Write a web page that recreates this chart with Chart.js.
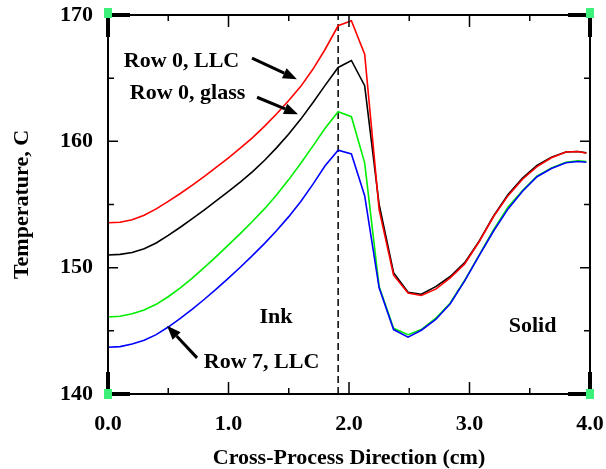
<!DOCTYPE html>
<html><head><meta charset="utf-8">
<script src="https://cdn.jsdelivr.net/npm/chart.js@4/dist/chart.umd.min.js"></script>
<style>html,body{margin:0;padding:0;background:#fff;}</style>
</head><body>
<canvas id="c" width="606" height="469" style="width:606px;height:469px;display:block"></canvas>
<script>
// ---- data ----
const xValues = [0,0.1,0.2,0.3,0.4,0.5,0.6,0.7,0.8,0.9,1.0,1.1,1.2,1.3,1.4,1.5,1.6,1.7,1.8,1.91,2.02,2.13,2.25,2.37,2.49,2.6,2.72,2.84,2.96,3.08,3.2,3.32,3.44,3.56,3.68,3.8,3.9,3.97];
const row0LLC   = [153.55,153.6,153.8,154.15,154.65,155.25,155.87,156.53,157.23,157.95,158.7,159.48,160.3,161.2,162.18,163.23,164.35,165.7,167.25,169.15,169.55,166.9,154.6,149.4,148.0,147.8,148.3,149.2,150.3,152.05,154.05,155.7,157.0,158.0,158.7,159.15,159.2,159.05];
const row0Glass = [151.0,151.05,151.2,151.5,151.95,152.55,153.2,153.88,154.58,155.3,156.04,156.8,157.6,158.5,159.5,160.58,161.76,163.06,164.41,165.85,166.4,164.4,155.0,149.6,148.05,147.9,148.5,149.3,150.4,152.1,154.1,155.8,157.1,158.1,158.75,159.15,159.2,159.1];
const row7Glass = [146.1,146.15,146.35,146.65,147.1,147.7,148.4,149.18,150.02,150.9,151.8,152.72,153.67,154.67,155.77,156.97,158.27,159.62,161.02,162.35,161.95,158.3,148.5,145.2,144.7,145.1,146.0,147.2,149.0,151.0,153.0,154.8,156.1,157.25,157.9,158.35,158.45,158.4];
const row7LLC   = [143.7,143.75,143.95,144.25,144.7,145.3,145.98,146.72,147.5,148.32,149.17,150.05,150.97,151.92,152.94,154.04,155.24,156.59,158.04,159.3,159.0,155.7,148.4,145.1,144.5,145.05,145.9,147.15,148.95,150.95,152.9,154.65,156.05,157.2,157.85,158.3,158.4,158.35];
const seriesNames = ['Row 0, LLC','Row 7, LLC','Row 0, glass','Row 7, glass'];
const xTickLabels = ['0.0','1.0','2.0','3.0','4.0'];
const yTickLabels = ['140','150','160','170'];
const boundaryX = 1.91;
const labelTexts = ['Row 0, LLC','Row 0, glass','Ink','Row 7, LLC','Solid'];
const labelX = [0.61,0.66,1.394,1.274,3.523];
const labelY = [165.87,163.33,145.63,142.06,144.87];
const arrowFrom = [[1.195,166.59],[1.237,163.49],[0.739,142.86]];
const arrowTo   = [[1.568,164.92],[1.577,162.14],[0.49,145.4]];

const FONT = '"Liberation Serif", "Times New Roman", serif';
const toPts = ys => xValues.map((x,i)=>({x:x,y:ys[i]}));

const decor = {
  id:'decor',
  beforeDatasetsDraw(chart){
    const {ctx, chartArea:a, scales:{x}} = chart;
    const px = x.getPixelForValue(boundaryX);
    ctx.save();
    ctx.strokeStyle='#000'; ctx.lineWidth=1.5; ctx.setLineDash([7,4]);
    ctx.beginPath(); ctx.moveTo(px,a.bottom); ctx.lineTo(px,a.top); ctx.stroke();
    ctx.restore();
  },
  afterDraw(chart){
    const {ctx, chartArea:a, scales:{x,y}} = chart;
    ctx.save();
    ctx.strokeStyle='#000'; ctx.lineWidth=2;
    ctx.strokeRect(a.left,a.top,a.right-a.left,a.bottom-a.top);
    // ticks
    ctx.lineWidth=1.5;
    for(let v=0; v<=4.0001; v+=0.5){
      const p = x.getPixelForValue(v);
      const L = Math.abs(v-Math.round(v))<1e-6 ? 12 : 6;
      ctx.beginPath(); ctx.moveTo(p,a.bottom); ctx.lineTo(p,a.bottom-L);
      ctx.moveTo(p,a.top); ctx.lineTo(p,a.top+L); ctx.stroke();
    }
    for(let v=140; v<=170; v+=5){
      const p = y.getPixelForValue(v);
      const L = v%10===0 ? 10 : 6;
      ctx.beginPath(); ctx.moveTo(a.left,p); ctx.lineTo(a.left+L,p);
      ctx.moveTo(a.right,p); ctx.lineTo(a.right-L,p); ctx.stroke();
    }
    // thick corner marks
    ctx.lineWidth=4; ctx.lineCap='butt';
    const c=22;
    ctx.beginPath();
    ctx.moveTo(a.left,a.top+c); ctx.lineTo(a.left,a.top); ctx.lineTo(a.left+c,a.top);
    ctx.moveTo(a.right-c,a.top); ctx.lineTo(a.right,a.top); ctx.lineTo(a.right,a.top+c);
    ctx.moveTo(a.left,a.bottom-c); ctx.lineTo(a.left,a.bottom); ctx.lineTo(a.left+c,a.bottom);
    ctx.moveTo(a.right-c,a.bottom); ctx.lineTo(a.right,a.bottom); ctx.lineTo(a.right,a.bottom-c);
    ctx.stroke();
    // green corner handles
    ctx.fillStyle='#3cf07a';
    [[a.left,a.top-2],[a.right,a.top-2],[a.left,a.bottom],[a.right,a.bottom]].forEach(([cx,cy])=>{
      ctx.fillRect(cx-4,cy-5,8,10);
    });
    // text labels
    ctx.fillStyle='#000';
    ctx.font='bold 22px '+FONT;
    ctx.textAlign='center'; ctx.textBaseline='alphabetic';
    labelTexts.forEach((t,i)=>{
      ctx.fillText(t, x.getPixelForValue(labelX[i]), y.getPixelForValue(labelY[i]));
    });
    // arrows
    arrowFrom.forEach((f,i)=>{
      const x1=x.getPixelForValue(f[0]), y1=y.getPixelForValue(f[1]);
      const x2=x.getPixelForValue(arrowTo[i][0]), y2=y.getPixelForValue(arrowTo[i][1]);
      const ang=Math.atan2(y2-y1,x2-x1);
      const hl=14, hw=5.5;
      const bx=x2-hl*Math.cos(ang), by=y2-hl*Math.sin(ang);
      ctx.strokeStyle='#000'; ctx.lineWidth=3;
      ctx.beginPath(); ctx.moveTo(x1,y1); ctx.lineTo(bx,by); ctx.stroke();
      ctx.beginPath();
      ctx.moveTo(x2,y2);
      ctx.lineTo(bx+hw*Math.sin(ang), by-hw*Math.cos(ang));
      ctx.lineTo(bx-hw*Math.sin(ang), by+hw*Math.cos(ang));
      ctx.closePath(); ctx.fill();
    });
    ctx.restore();
  }
};

const mk = (label, ys, color, order) => ({
  label, data: toPts(ys), borderColor: color, backgroundColor: color,
  borderWidth: 1.6, pointRadius: 0, tension: 0, fill: false, showLine: true, order
});

new Chart(document.getElementById('c'), {
  type: 'scatter',
  data: { datasets: [
    mk(seriesNames[0], row0LLC, '#ff0000', 0),
    mk(seriesNames[1], row7LLC, '#0000ff', 1),
    mk(seriesNames[2], row0Glass, '#000000', 2),
    mk(seriesNames[3], row7Glass, '#00ee00', 3)
  ]},
  options: {
    responsive: false, animation: false, devicePixelRatio: 1,
    layout: { padding: { left: 0, top: 15, right: 16, bottom: 0 } },
    plugins: { legend: { display: false }, tooltip: { enabled: false } },
    scales: {
      x: {
        type: 'linear', min: 0, max: 4,
        grid: { display: false, drawTicks: false }, border: { display: false },
        ticks: { stepSize: 1, padding: 17, color: '#000', font: { family: FONT, size: 22, weight: 'bold' },
          callback: (v) => xTickLabels[Math.round(v)] },
        title: { display: true, text: 'Cross-Process Direction (cm)', color: '#000',
          font: { family: FONT, size: 22, weight: 'bold', lineHeight: 1 }, padding: { top: 0, bottom: 0 } },
        afterFit: s => { s.height = 75; s.paddingLeft = 0; s.paddingRight = 0; }
      },
      y: {
        type: 'linear', min: 140, max: 170,
        grid: { display: false, drawTicks: false }, border: { display: false },
        ticks: { stepSize: 10, padding: 15, color: '#000', font: { family: FONT, size: 22, weight: 'bold' },
          callback: (v) => yTickLabels[Math.round((v - 140) / 10)] },
        title: { display: true, text: 'Temperature, C', color: '#000',
          font: { family: FONT, size: 22, weight: 'bold', lineHeight: 1 }, padding: { top: 11, bottom: 0 } },
        afterFit: s => { s.width = 108; s.paddingTop = 0; s.paddingBottom = 0; }
      }
    }
  },
  plugins: [decor]
});
</script>
</body></html>
